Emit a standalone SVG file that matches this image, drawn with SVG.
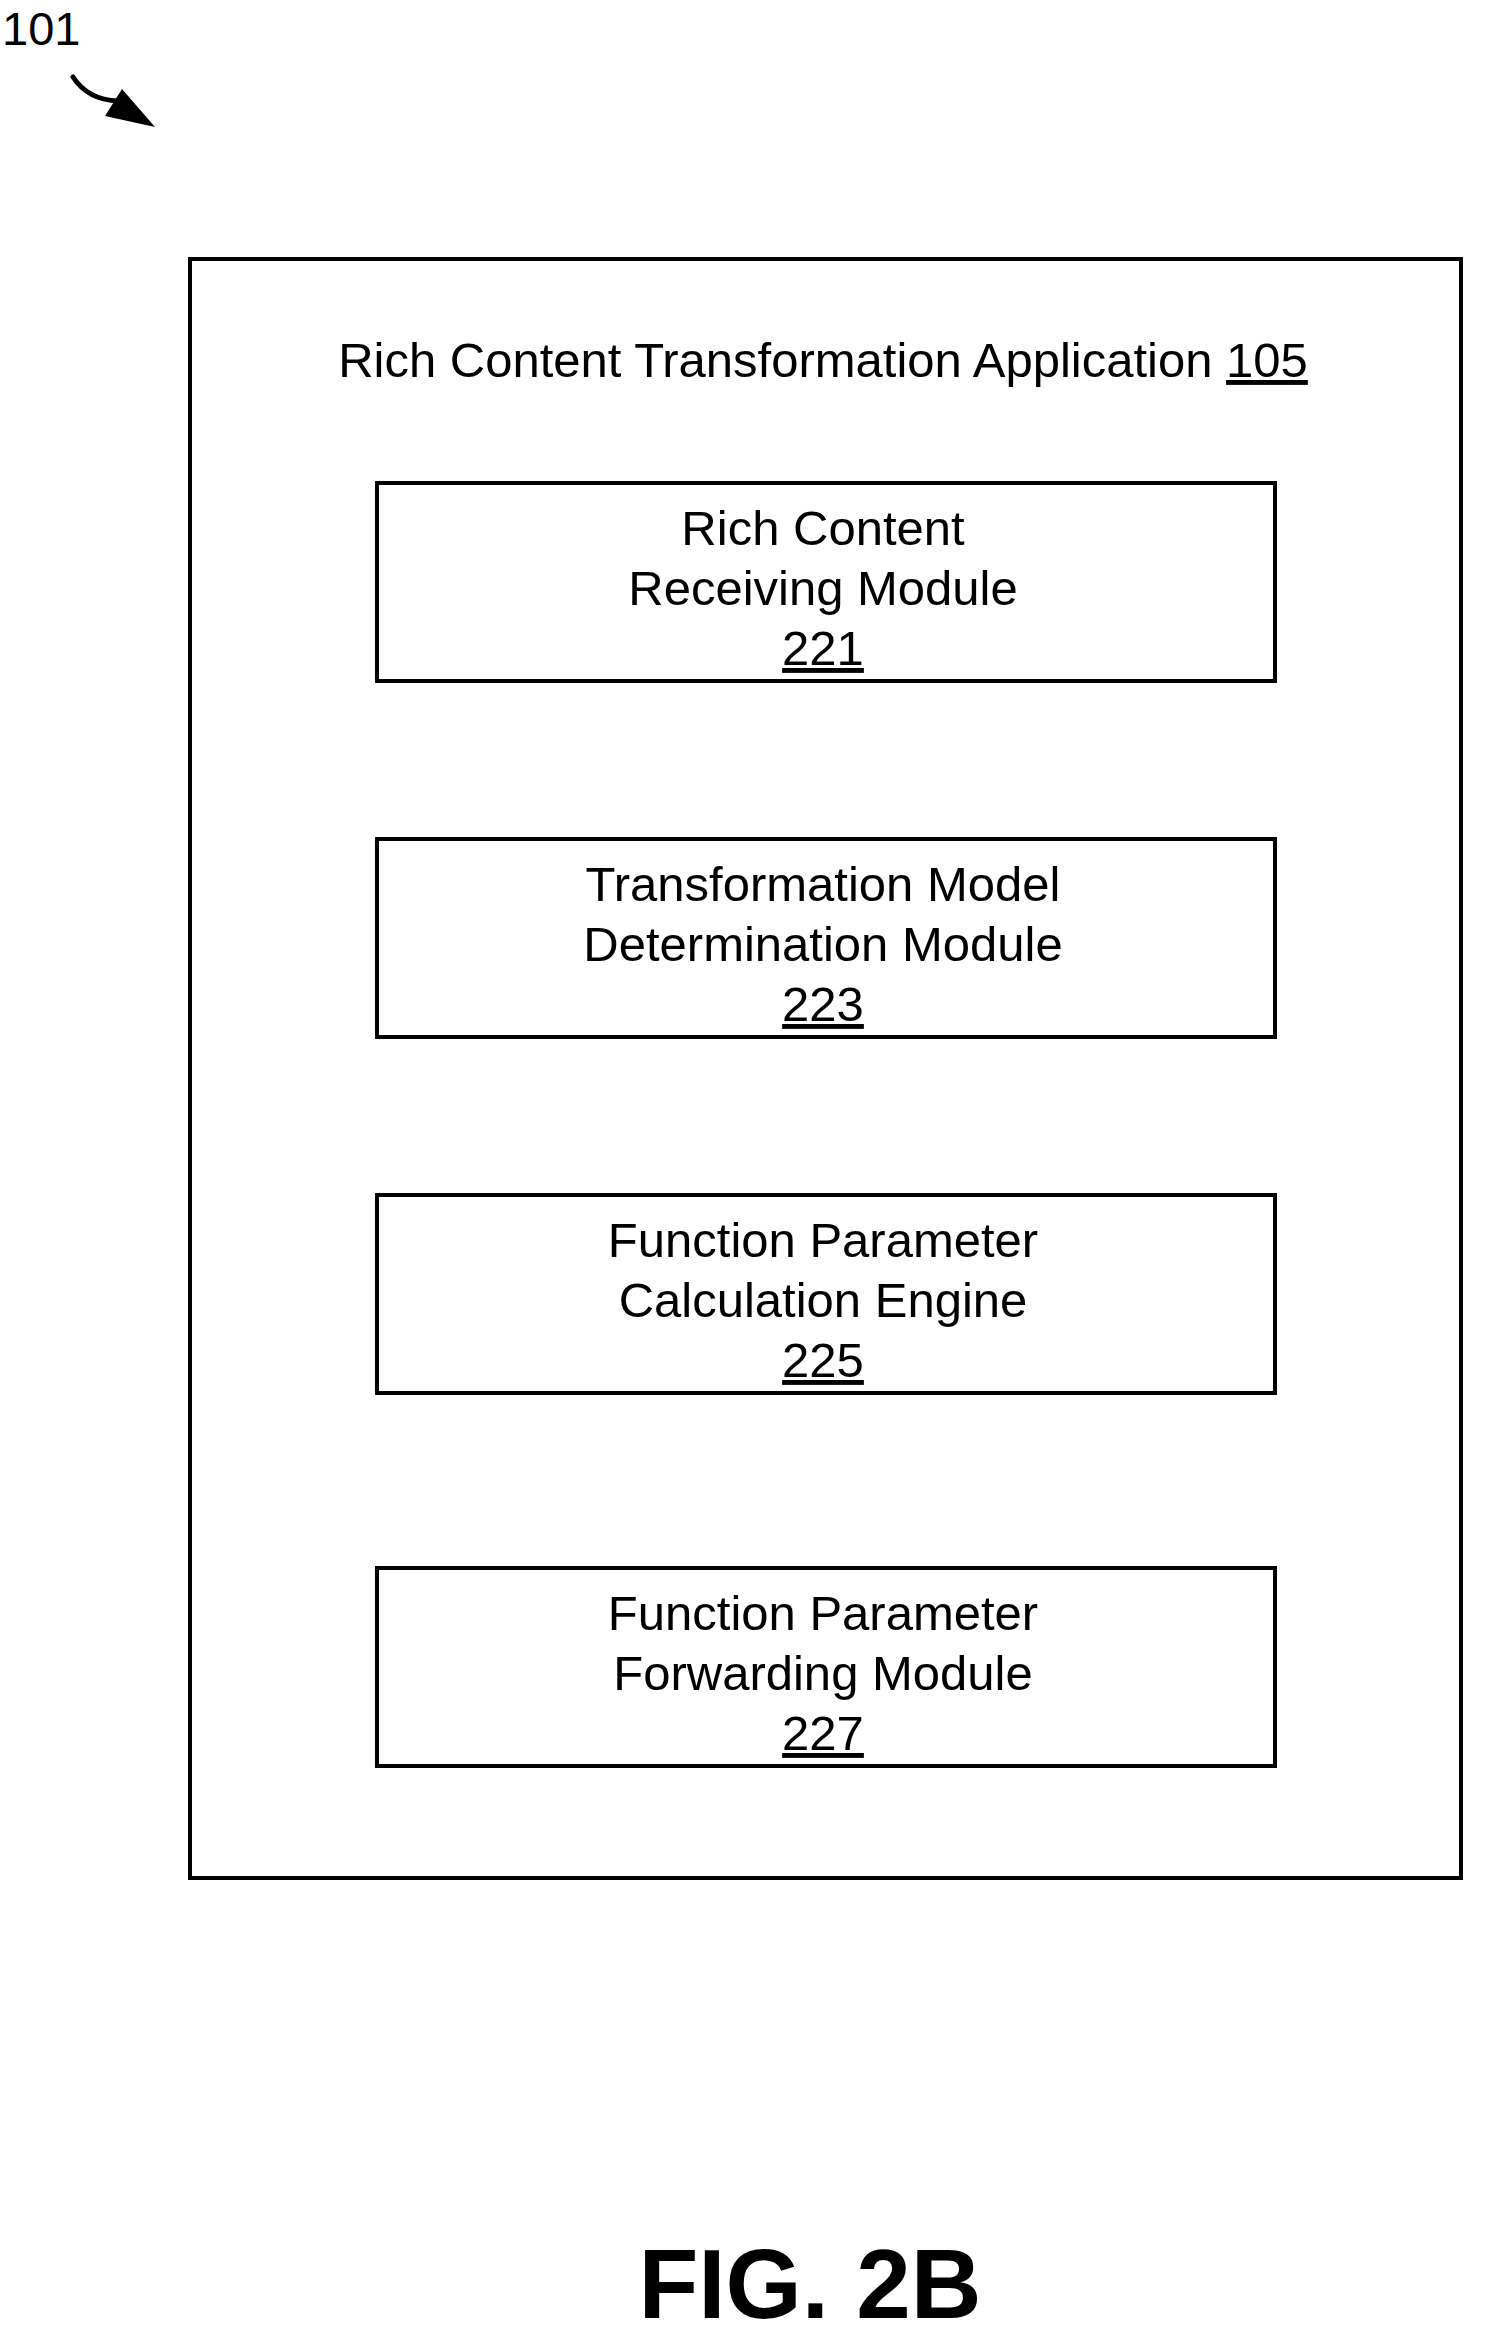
<svg xmlns="http://www.w3.org/2000/svg" width="1485" height="2340" viewBox="0 0 1485 2340">
<style>
text{font-family:"Liberation Sans",Arial,sans-serif;fill:#000}
.t{font-size:49px;text-anchor:middle}
.b{fill:#fff;stroke:#000;stroke-width:4}
</style>
<rect width="1485" height="2340" fill="#fff"/>
<text x="2" y="45" style="font-size:47px">101</text>
<g id="connectors">
<path d="M73,77 Q88,100 118,101" fill="none" stroke="#000" stroke-width="5" stroke-linecap="round"/>
<polygon points="105,116 122,89 155,127" fill="#000"/>
</g>
<g id="app105">
<rect class="b" x="190" y="259" width="1271" height="1619"/>
<text class="t" x="823" y="377">Rich Content Transformation Application <tspan text-decoration="underline">105</tspan></text>
</g>
<g id="n221">
<rect class="b" x="377" y="483" width="898" height="198"/>
<text class="t" x="823" y="545">Rich Content</text>
<text class="t" x="823" y="605">Receiving Module</text>
<text class="t" x="823" y="665" text-decoration="underline">221</text>
</g>
<g id="n223">
<rect class="b" x="377" y="839" width="898" height="198"/>
<text class="t" x="823" y="901">Transformation Model</text>
<text class="t" x="823" y="961">Determination Module</text>
<text class="t" x="823" y="1021" text-decoration="underline">223</text>
</g>
<g id="n225">
<rect class="b" x="377" y="1195" width="898" height="198"/>
<text class="t" x="823" y="1257">Function Parameter</text>
<text class="t" x="823" y="1317">Calculation Engine</text>
<text class="t" x="823" y="1377" text-decoration="underline">225</text>
</g>
<g id="n227">
<rect class="b" x="377" y="1568" width="898" height="198"/>
<text class="t" x="823" y="1630">Function Parameter</text>
<text class="t" x="823" y="1690">Forwarding Module</text>
<text class="t" x="823" y="1750" text-decoration="underline">227</text>
</g>
<text x="810" y="2318" style="font-size:98px;font-weight:bold;text-anchor:middle">FIG. 2B</text>
</svg>
